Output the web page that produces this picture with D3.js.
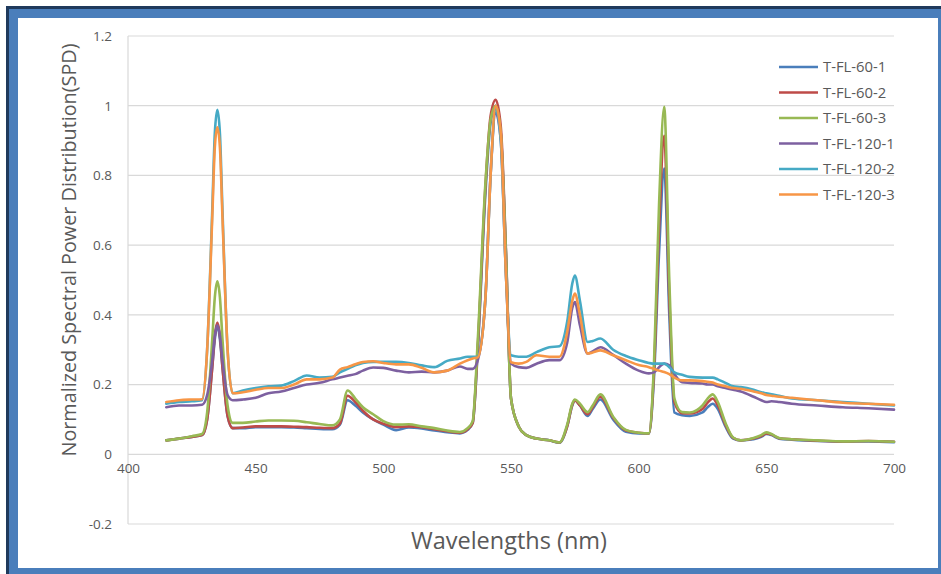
<!DOCTYPE html>
<html><head><meta charset="utf-8">
<script src="https://cdn.jsdelivr.net/npm/d3@7"></script>
<style>html,body{margin:0;padding:0;background:#fff;}svg{display:block;}</style>
</head><body>
<svg id="chart" width="941" height="574"></svg>
<script>
// ---- data ----
const wavelengths = [
  415,420,425,429,431,433,434,435,436,437,
  439,441,445,450,455,460,465,470,475,480,
  483,486,489,492,496,500,505,510,515,520,
  525,530,533,535,537,540,542,544,546,548,
  550,553,556,560,565,569,572,574,575,577,
  580,582,585,590,595,600,604,606,608,610,
  612,614,617,620,625,627,629,631,634,637,
  640,645,648,650,652,655,660,670,680,690,
  700];
const seriesNames = ["T-FL-60-1","T-FL-60-2","T-FL-60-3","T-FL-120-1","T-FL-120-2","T-FL-120-3"];
const seriesColors = ["#4a7ebb","#be4b48","#98b954","#7d60a0","#46aac5","#f79646"];
const fl60_1 = [
  0.040,0.045,0.050,0.055,0.10,0.25,0.33,0.37,0.33,0.25,
  0.11,0.075,0.075,0.078,0.078,0.078,0.077,0.075,0.073,0.072,
  0.085,0.155,0.14,0.12,0.10,0.085,0.069,0.077,0.074,0.068,
  0.063,0.06,0.07,0.09,0.30,0.75,0.95,1.0,0.92,0.58,
  0.16,0.08,0.055,0.045,0.04,0.033,0.08,0.14,0.155,0.14,
  0.11,0.13,0.157,0.10,0.065,0.06,0.06,0.22,0.58,0.82,
  0.40,0.12,0.112,0.11,0.12,0.135,0.145,0.13,0.08,0.045,
  0.04,0.043,0.05,0.058,0.055,0.045,0.042,0.038,0.036,0.037,
  0.035];
const fl60_2 = [
  0.040,0.045,0.050,0.055,0.10,0.25,0.34,0.378,0.34,0.25,
  0.11,0.075,0.077,0.08,0.08,0.08,0.079,0.078,0.076,0.075,
  0.088,0.168,0.15,0.125,0.10,0.088,0.078,0.08,0.078,0.072,
  0.066,0.062,0.072,0.09,0.31,0.77,0.97,1.017,0.94,0.59,
  0.16,0.08,0.055,0.045,0.04,0.034,0.08,0.142,0.155,0.14,
  0.115,0.135,0.165,0.105,0.068,0.062,0.06,0.24,0.65,0.914,
  0.45,0.15,0.118,0.117,0.13,0.148,0.16,0.14,0.085,0.047,
  0.04,0.045,0.052,0.06,0.057,0.046,0.043,0.039,0.037,0.038,
  0.036];
const fl60_3 = [
  0.040,0.045,0.052,0.058,0.12,0.33,0.45,0.496,0.45,0.33,
  0.14,0.09,0.09,0.094,0.097,0.097,0.096,0.092,0.087,0.083,
  0.10,0.183,0.16,0.135,0.115,0.095,0.085,0.086,0.08,0.075,
  0.068,0.064,0.075,0.095,0.33,0.78,0.96,1.0,0.92,0.58,
  0.16,0.08,0.055,0.045,0.04,0.034,0.085,0.145,0.157,0.145,
  0.121,0.14,0.172,0.108,0.07,0.062,0.06,0.26,0.72,0.997,
  0.50,0.16,0.121,0.12,0.14,0.16,0.172,0.15,0.09,0.048,
  0.04,0.047,0.055,0.063,0.058,0.047,0.043,0.04,0.037,0.038,
  0.036];
const fl120_1 = [
  0.135,0.14,0.14,0.142,0.17,0.27,0.34,0.37,0.34,0.27,
  0.17,0.155,0.157,0.162,0.175,0.18,0.19,0.2,0.205,0.215,
  0.22,0.225,0.23,0.24,0.249,0.248,0.24,0.235,0.237,0.235,
  0.24,0.252,0.245,0.245,0.27,0.45,0.8,0.98,0.9,0.52,
  0.26,0.25,0.248,0.26,0.27,0.27,0.32,0.42,0.437,0.37,
  0.289,0.295,0.307,0.285,0.26,0.24,0.232,0.235,0.25,0.26,
  0.255,0.23,0.207,0.205,0.203,0.2,0.2,0.195,0.19,0.185,
  0.18,0.165,0.155,0.15,0.152,0.15,0.145,0.14,0.135,0.132,
  0.128];
const fl120_2 = [
  0.145,0.15,0.152,0.155,0.30,0.70,0.92,0.988,0.92,0.70,
  0.30,0.175,0.183,0.19,0.195,0.197,0.21,0.226,0.22,0.222,
  0.235,0.245,0.255,0.262,0.265,0.265,0.265,0.262,0.255,0.25,
  0.268,0.275,0.28,0.28,0.28,0.45,0.8,0.99,0.9,0.52,
  0.284,0.28,0.28,0.293,0.307,0.31,0.38,0.49,0.513,0.44,
  0.322,0.325,0.332,0.3,0.282,0.27,0.262,0.26,0.26,0.26,
  0.25,0.235,0.228,0.222,0.22,0.22,0.22,0.215,0.205,0.195,
  0.193,0.185,0.178,0.175,0.172,0.168,0.16,0.155,0.15,0.145,
  0.14];
const fl120_3 = [
  0.15,0.155,0.157,0.158,0.30,0.68,0.88,0.938,0.88,0.68,
  0.30,0.175,0.178,0.185,0.19,0.19,0.2,0.215,0.215,0.22,
  0.243,0.25,0.258,0.265,0.267,0.262,0.258,0.258,0.248,0.235,
  0.24,0.26,0.27,0.275,0.278,0.45,0.8,1.0,0.92,0.52,
  0.264,0.26,0.265,0.284,0.28,0.28,0.35,0.44,0.461,0.4,
  0.289,0.292,0.298,0.284,0.27,0.256,0.25,0.245,0.24,0.236,
  0.23,0.22,0.212,0.212,0.21,0.208,0.206,0.2,0.195,0.19,
  0.188,0.18,0.175,0.17,0.168,0.165,0.162,0.155,0.148,0.145,
  0.142];
const seriesValues = [fl60_1, fl60_2, fl60_3, fl120_1, fl120_2, fl120_3];
const xTicks = [400,450,500,550,600,650,700];
const yTicks = [-0.2,0,0.2,0.4,0.6,0.8,1,1.2];
const yTickLabels = ["-0.2","0","0.2","0.4","0.6","0.8","1","1.2"];
const xTitle = "Wavelengths (nm)";
const yTitle = "Normalized Spectral Power Distribution(SPD)";

// ---- drawing ----
const svg = d3.select("#chart");
const font = "'Open Sans', sans-serif";

// frame
svg.append("rect").attr("x",6).attr("y",6).attr("width",935).attr("height",568).attr("fill","#1f3a5c");
svg.append("rect").attr("x",9).attr("y",9).attr("width",932).attr("height",565).attr("fill","#4a7ebb");
svg.append("rect").attr("x",18).attr("y",18).attr("width",920).attr("height",550).attr("fill","#ffffff");

const x = d3.scaleLinear().domain([400,700]).range([128,894]);
const y = d3.scaleLinear().domain([-0.2,1.2]).range([524,36]);

// gridlines
svg.append("g").selectAll("line").data(yTicks).join("line")
  .attr("x1",x(400)).attr("x2",x(700))
  .attr("y1",d=>y(d)).attr("y2",d=>y(d))
  .attr("stroke","#d9d9d9").attr("stroke-width",1.2);
// vertical axis line
svg.append("line").attr("x1",x(400)).attr("x2",x(400)).attr("y1",y(1.2)).attr("y2",y(-0.2))
  .attr("stroke","#d9d9d9").attr("stroke-width",1.2);

// y axis labels
const yAxis = d3.axisLeft(y).tickValues(yTicks).tickSize(0).tickPadding(16)
  .tickFormat((d,i)=>yTickLabels[i]);
const yg = svg.append("g").attr("transform",`translate(${x(400)},0)`).call(yAxis);
yg.select(".domain").remove();
yg.selectAll("text").attr("font-family",font).attr("font-size",13.5).attr("fill","#595959");

// x axis labels (crossing at y=0)
const xAxis = d3.axisBottom(x).tickValues(xTicks).tickSize(0).tickPadding(9).tickFormat(d3.format("d"));
const xg = svg.append("g").attr("transform",`translate(0,${y(0)})`).call(xAxis);
xg.select(".domain").remove();
xg.selectAll("text").attr("font-family",font).attr("font-size",13.5).attr("fill","#595959");

// lines
const line = d3.line().x((d,i)=>x(wavelengths[i])).y(d=>y(d)).curve(d3.curveMonotoneX);
svg.append("g").selectAll("path").data(seriesValues).join("path")
  .attr("d",d=>line(d)).attr("fill","none")
  .attr("stroke",(d,i)=>seriesColors[i]).attr("stroke-width",2.6)
  .attr("stroke-linejoin","round").attr("stroke-linecap","round");

// titles
svg.append("text").attr("x",509).attr("y",549).attr("text-anchor","middle")
  .attr("font-family",font).attr("font-size",23.5).attr("fill","#595959").text(xTitle);
svg.append("text").attr("transform","translate(76,250) rotate(-90)").attr("text-anchor","middle")
  .attr("font-family",font).attr("font-size",19.8).attr("fill","#595959").text(yTitle);

// legend
const lg = svg.append("g").selectAll("g").data(seriesNames).join("g")
  .attr("transform",(d,i)=>`translate(779,${67+i*25.5})`);
lg.append("line").attr("x1",0).attr("x2",39).attr("y1",0).attr("y2",0)
  .attr("stroke",(d,i)=>seriesColors[i]).attr("stroke-width",2.6);
lg.append("text").attr("x",44).attr("y",0).attr("dy","0.35em")
  .attr("font-family",font).attr("font-size",14.8).attr("fill","#595959").text(d=>d);
</script>
</body></html>
